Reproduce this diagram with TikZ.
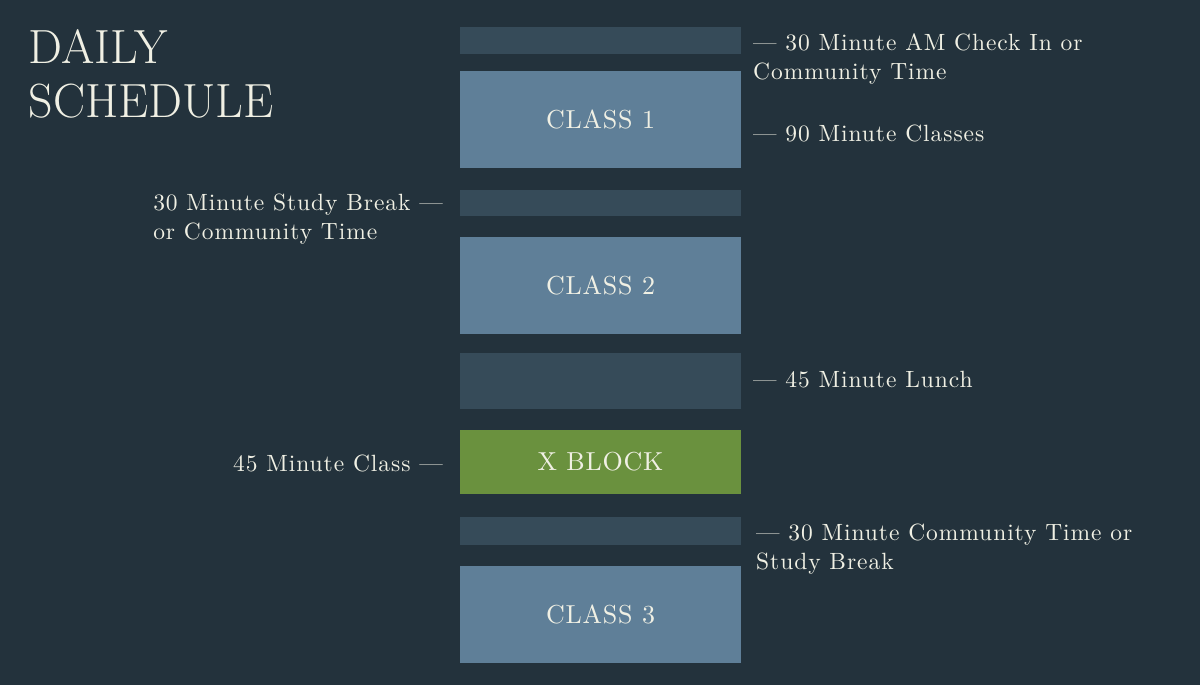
\documentclass[tikz,border=0pt]{standalone}
\usepackage{fontspec}
\usepackage{xcolor}
\usetikzlibrary{positioning}
\newfontfamily\notefont{lmroman10-regular.otf}[LetterSpace=4]
\newfontfamily\blockfont{lmroman10-regular.otf}[LetterSpace=3]
\definecolor{bgnavy}{HTML}{23323C}
\definecolor{slotgrey}{HTML}{364B59}
\definecolor{classblue}{HTML}{5F7F98}
\definecolor{xgreen}{HTML}{6A913E}
\definecolor{cream}{HTML}{F0F0E4}
\tikzset{
	block/.style={rectangle, minimum width=281pt, inner sep=0pt, outer sep=0pt, text=cream,
		font=\blockfont\fontsize{26}{30}\selectfont},
	slot/.style={block, fill=slotgrey},
	classbox/.style={block, fill=classblue, minimum height=97pt},
	note/.style={align=left, inner sep=0pt, text=cream,
		font=\notefont\fontsize{23.5}{29}\selectfont},
	heading/.style={align=left, inner sep=0pt, text=cream,
		font=\fontsize{48}{54}\selectfont\addfontfeatures{FakeStretch=0.9}}
}
\begin{document}
\begin{tikzpicture}[x=1pt,y=-1pt]
		\fill[bgnavy] (0,0) rectangle (1200,685);
		\useasboundingbox (0,0) rectangle (1200,685);
		\node[heading, anchor=north west] (title) at (28.5,29) {DAILY\\SCHEDULE};
		\node[slot, minimum height=27pt, anchor=north west] (checkin) at (460,27) {};
		\node[classbox, below=17pt of checkin] (class1) {CLASS 1};
		\node[slot, minimum height=26pt, below=22pt of class1] (break1) {};
		\node[classbox, below=21pt of break1] (class2) {CLASS 2};
		\node[slot, minimum height=56pt, below=19pt of class2] (lunch) {};
		\node[block, fill=xgreen, minimum height=64pt, below=21pt of lunch] (xblock) {X BLOCK};
		\node[slot, minimum height=28pt, below=23pt of xblock] (break2) {};
		\node[classbox, below=21pt of break2] (class3) {CLASS 3};
		\node[note, anchor=north west] (checkinlbl) at (753,33.4) {— 30 Minute AM Check In or\\Community Time};
		\node[note, anchor=north west] (classlbl) at (753,124.4) {— 90 Minute Classes};
		\node[note, anchor=north east] (break1lbl) at (443,193.4) {30 Minute Study Break —\\or Community Time};
		\node[note, anchor=north west] (lunchlbl) at (753,371.2) {— 45 Minute Lunch};
		\node[note, anchor=north east] (xblocklbl) at (443,455) {45 Minute Class —};
		\node[note, anchor=north west] (break2lbl) at (756,523.4) {— 30 Minute Community Time or\\Study Break};
	\end{tikzpicture}
\end{document}
